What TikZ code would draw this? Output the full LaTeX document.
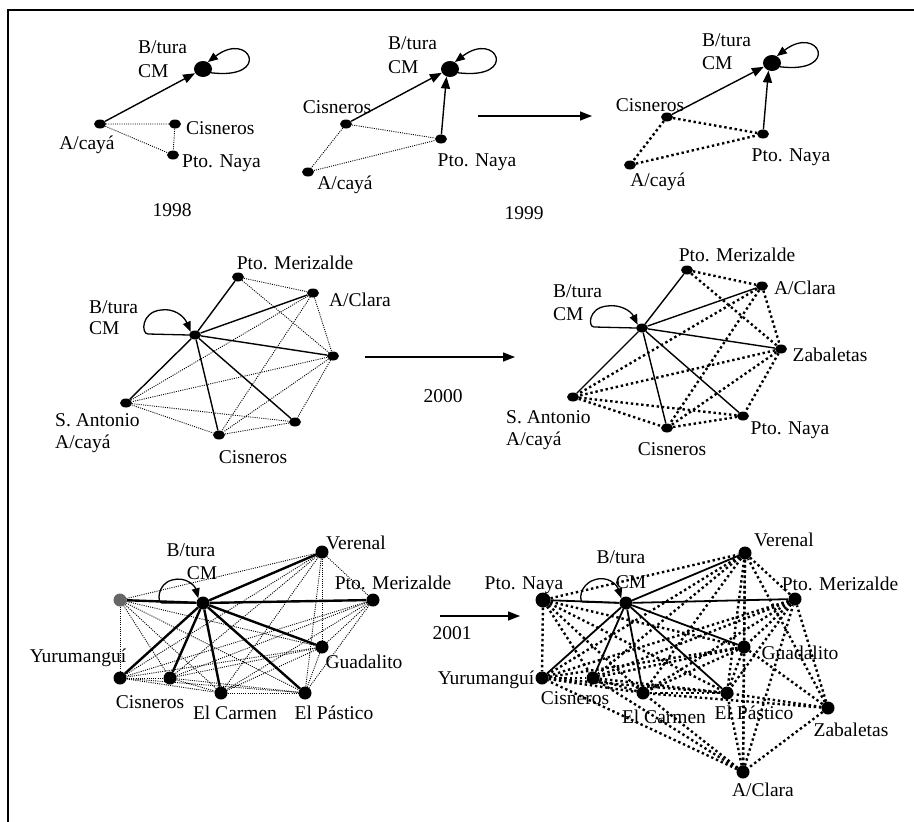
\documentclass[tikz,border=0pt]{standalone}
\usepackage{fontspec}
\setmainfont{Liberation Serif}
\usetikzlibrary{arrows.meta,shapes.geometric}
\begin{document}
\begin{tikzpicture}[x=1pt,y=-1pt,
  lbl/.style={inner sep=0pt,font=\fontsize{19.5}{22}\selectfont},
  lblw/.style={lbl,anchor=west},
  dot/.style={ellipse,fill=black,draw=none,minimum width=12pt,minimum height=9pt,inner sep=0pt},
  bigdot/.style={ellipse,fill=black,draw=none,minimum width=18pt,minimum height=16pt,inner sep=0pt},
  rdot/.style={circle,fill=black,draw=none,minimum size=13pt,inner sep=0pt},
  tie/.style={line width=1.4pt},
  tiethick/.style={line width=2.4pt},
  tiemid/.style={line width=1.8pt},
  fine/.style={line width=0.9pt,dash pattern=on 1pt off 1.2pt},
  coarse/.style={line width=2.4pt,dash pattern=on 2.4pt off 2.8pt},
  tip/.style={-{Triangle[length=12pt,width=9pt]}},
  looparrow/.style={line width=1.3pt,-{Triangle[length=10pt,width=8pt]}},
]
\useasboundingbox (0,0) rectangle (914,822);
\fill[white] (0,0) rectangle (914,822);
% frame
\draw[line width=2pt] (8,822) -- (8,10) -- (914,10);

% ---------------- 1998 ----------------
\node[bigdot] (aB) at (203,69) {};
\node[dot] (aA) at (100,124) {};
\node[dot] (aC) at (175,124) {};
\node[dot] (aP) at (173,155) {};
\node[lblw] (aBl1) at (138,47) {B/tura};
\node[lblw] (aBl2) at (138,71) {CM};
\node[lbl] (aAl) at (87,145) {A/cayá};
\node[lblw] (aCl) at (186,128) {Cisneros};
\node[lblw] (aPl) at (182,163) {Pto. Naya};
\node[lbl] (aY) at (172,210) {1998};
\draw[fine] (aA) -- (aC) (aA) -- (aP) (aC) -- (aP);
\draw[tie,tip] (aA) -- (aB);
\draw[looparrow] (aB.-25) .. controls (272,80) and (250,30) .. (aB.55);

% ---------------- 1999 ----------------
\node[bigdot] (bB) at (450,69) {};
\node[dot] (bC) at (346,124) {};
\node[dot] (bP) at (441,139) {};
\node[dot] (bA) at (308,172) {};
\node[lblw] (bBl1) at (388,43) {B/tura};
\node[lblw] (bBl2) at (388,67) {CM};
\node[lbl] (bCl) at (337,107) {Cisneros};
\node[lbl] (bPl) at (477,162) {Pto. Naya};
\node[lbl] (bAl) at (345,185) {A/cayá};
\node[lbl] (bY) at (524,213) {1999};
\draw[fine] (bC) -- (bP) (bC) -- (bA) (bA) -- (bP);
\draw[tie,tip] (bC) -- (bB.205);
\draw[tie,tip] (bP) -- (bB.245);
\draw[looparrow] (bB.-25) .. controls (519,80) and (497,30) .. (bB.55);
\coordinate (s1) at (478,116);
\coordinate (e1) at (592,116);
\draw[tie,tip] (s1) -- (e1);

% ---------------- 1999 (second) ----------------
\node[bigdot] (cB) at (772,63) {};
\node[dot] (cC) at (667,117) {};
\node[dot] (cP) at (763,134) {};
\node[dot] (cA) at (630,165) {};
\node[lblw] (cBl1) at (702,40) {B/tura};
\node[lblw] (cBl2) at (702,63) {CM};
\node[lbl] (cCl) at (650,105) {Cisneros};
\node[lbl] (cPl) at (791,157) {Pto. Naya};
\node[lbl] (cAl) at (658,182) {A/cayá};
\draw[coarse] (cC) -- (cP) (cC) -- (cA) (cA) -- (cP);
\draw[tie,tip] (cC) -- (cB.205);
\draw[tie,tip] (cP) -- (cB.245);
\draw[looparrow] (cB.-25) .. controls (841,74) and (819,24) .. (cB.55);

% ---------------- 2000 (first) ----------------
\node[dot] (dB) at (195,335) {};
\node[dot] (dM) at (238,277) {};
\node[dot] (dAC) at (313,293) {};
\node[dot] (dZ) at (333,356) {};
\node[dot] (dPN) at (295,422) {};
\node[dot] (dC) at (219,435) {};
\node[dot] (dSA) at (126,403) {};
\node[lblw] (dBl1) at (89,307) {B/tura};
\node[lblw] (dBl2) at (89,328) {CM};
\node[lbl] (dMl) at (295,263) {Pto. Merizalde};
\node[lbl] (dACl) at (360,300) {A/Clara};
\node[lblw] (dSAl1) at (55,420) {S. Antonio};
\node[lblw] (dSAl2) at (55,444) {A/cayá};
\node[lbl] (dCl) at (253,457) {Cisneros};
\foreach \u/\v in {dM/dAC,dM/dZ,dAC/dZ,dAC/dC,dAC/dSA,dZ/dSA,dZ/dC,dZ/dPN,dSA/dC,dSA/dPN,dC/dPN}
  \draw[fine] (\u) -- (\v);
\foreach \v in {dM,dAC,dZ,dPN,dC,dSA}
  \draw[tie] (dB) -- (\v);
\draw[looparrow] (dB.west) -- (148,334) .. controls (141,334) and (141,312) .. (161,310)
  .. controls (174,308) and (184,316) .. (dB.north west);
\coordinate (s2) at (365,357);
\coordinate (e2) at (515,357);
\draw[tie,tip] (s2) -- (e2);
\node[lbl] (dY) at (443,396) {2000};

% ---------------- 2000 (second) ----------------
\node[dot] (eB) at (642,328) {};
\node[dot] (eM) at (687,270) {};
\node[dot] (eAC) at (762,286) {};
\node[dot] (eZ) at (781,349) {};
\node[dot] (ePN) at (743,416) {};
\node[dot] (eC) at (667,428) {};
\node[dot] (eSA) at (573,397) {};
\node[lblw] (eBl1) at (553,291) {B/tura};
\node[lblw] (eBl2) at (553,314) {CM};
\node[lbl] (eMl) at (737,255) {Pto. Merizalde};
\node[lbl] (eACl) at (805,288) {A/Clara};
\node[lbl] (eZl) at (830,355) {Zabaletas};
\node[lbl] (ePNl) at (790,430) {Pto. Naya};
\node[lbl] (eCl) at (672,449) {Cisneros};
\node[lblw] (eSAl1) at (506,417) {S. Antonio};
\node[lblw] (eSAl2) at (506,441) {A/cayá};
\foreach \u/\v in {eM/eAC,eM/eZ,eAC/eZ,eAC/eC,eAC/eSA,eZ/eSA,eZ/eC,eZ/ePN,eSA/eC,eSA/ePN,eC/ePN}
  \draw[coarse] (\u) -- (\v);
\foreach \v in {eM,eAC,eZ,ePN,eC,eSA}
  \draw[tie] (eB) -- (\v);
\draw[looparrow] (eB.west) -- (594,327) .. controls (588,327) and (588,308) .. (607,306)
  .. controls (620,304) and (631,311) .. (eB.north west);

% ---------------- 2001 (first) ----------------
\node[rdot] (fB) at (203,603) {};
\node[rdot,fill=black!60] (fPN) at (120,600) {};
\node[rdot] (fV) at (322,552) {};
\node[rdot] (fPM) at (373,600) {};
\node[rdot] (fG) at (322,647) {};
\node[rdot] (fY) at (120,678) {};
\node[rdot] (fC) at (170,678) {};
\node[rdot] (fEC) at (221,693) {};
\node[rdot] (fEP) at (305,693) {};
\node[lbl] (fBl1) at (191,550) {B/tura};
\node[lbl] (fBl2) at (202,573) {CM};
\node[lbl] (fVl) at (356,543) {Verenal};
\node[lbl] (fPMl) at (393,583) {Pto. Merizalde};
\node[lbl] (fGl) at (364,662) {Guadalito};
\node[lbl] (fYl) at (78,658) {Yurumanguí};
\node[lbl] (fCl) at (150,702) {Cisneros};
\node[lbl] (fECl) at (235,713) {El Carmen};
\node[lbl] (fEPl) at (334,713) {El Pástico};
\foreach \u/\v in {fPN/fV,fPN/fG,fPN/fY,fPN/fC,fPN/fEC,fPN/fEP,
                   fV/fPM,fV/fG,fV/fY,fV/fC,fV/fEC,fV/fEP,
                   fPM/fG,fPM/fY,fPM/fC,fPM/fEC,fPM/fEP,
                   fG/fY,fG/fC,fG/fEC,fG/fEP,
                   fY/fC,fY/fEC,fY/fEP,
                   fC/fEC,fC/fEP,fEC/fEP}
  \draw[fine] (\u) -- (\v);
\foreach \v in {fPN,fV,fPM,fG,fY,fC,fEC,fEP}
  \draw[tiethick] (fB) -- (\v);
\draw[looparrow] (fB.west) -- (162,603) .. controls (157,603) and (157,584) .. (172,580)
  .. controls (186,576) and (195,586) .. (fB.north west);
\coordinate (s3) at (440,616);
\coordinate (e3) at (520,616);
\draw[tie,tip] (s3) -- (e3);
\node[lbl] (fY1) at (452,633) {2001};

% ---------------- 2001 (second) ----------------
\node[rdot] (gB) at (626,603) {};
\node[rdot,minimum size=15pt] (gPN) at (543,600) {};
\node[rdot] (gV) at (745,553) {};
\node[rdot] (gPM) at (795,599) {};
\node[rdot] (gG) at (744,647) {};
\node[rdot] (gY) at (542,678) {};
\node[rdot] (gC) at (593,678) {};
\node[rdot] (gEC) at (643,693) {};
\node[rdot] (gEP) at (727,693) {};
\node[rdot] (gZ) at (828,708) {};
\node[rdot] (gAC) at (743,772) {};
\node[lbl] (gBl1) at (621,557) {B/tura};
\node[lbl] (gBl2) at (631,582) {CM};
\node[lbl] (gPNl) at (524,585) {Pto. Naya};
\node[lbl] (gVl) at (784,540) {Verenal};
\node[lbl] (gPMl) at (840,584) {Pto. Merizalde};
\node[lbl] (gGl) at (800,653) {Guadalito};
\node[lbl] (gYl) at (486,680) {Yurumanguí};
\node[lbl] (gCl) at (575,698) {Cisneros};
\node[lbl] (gECl) at (664,717) {El Carmen};
\node[lbl] (gEPl) at (754,713) {El Pástico};
\node[lbl] (gZl) at (851,730) {Zabaletas};
\node[lbl] (gACl) at (763,790) {A/Clara};
\foreach \u/\v in {gPN/gV,gPN/gG,gPN/gY,gPN/gC,gPN/gEC,gPN/gEP,
                   gV/gPM,gV/gG,gV/gY,gV/gC,gV/gEC,gV/gEP,
                   gPM/gG,gPM/gY,gPM/gC,gPM/gEC,gPM/gEP,
                   gG/gY,gG/gC,gG/gEC,gG/gEP,
                   gY/gC,gY/gEC,gY/gEP,
                   gC/gEC,gC/gEP,gEC/gEP,
                   gZ/gV,gZ/gPM,gZ/gG,gZ/gEP,gZ/gEC,gZ/gAC,
                   gAC/gY,gAC/gC,gAC/gEC,gAC/gEP,gAC/gG,gAC/gV,gAC/gPM}
  \draw[coarse] (\u) -- (\v);
\foreach \v in {gPN,gV,gPM,gG,gY,gC,gEC,gEP}
  \draw[tiemid] (gB) -- (\v);
\draw[looparrow] (gB.west) -- (583,602) .. controls (579,602) and (579,585) .. (594,580)
  .. controls (608,575) and (617,585) .. (gB.north west);
\end{tikzpicture}
\end{document}
